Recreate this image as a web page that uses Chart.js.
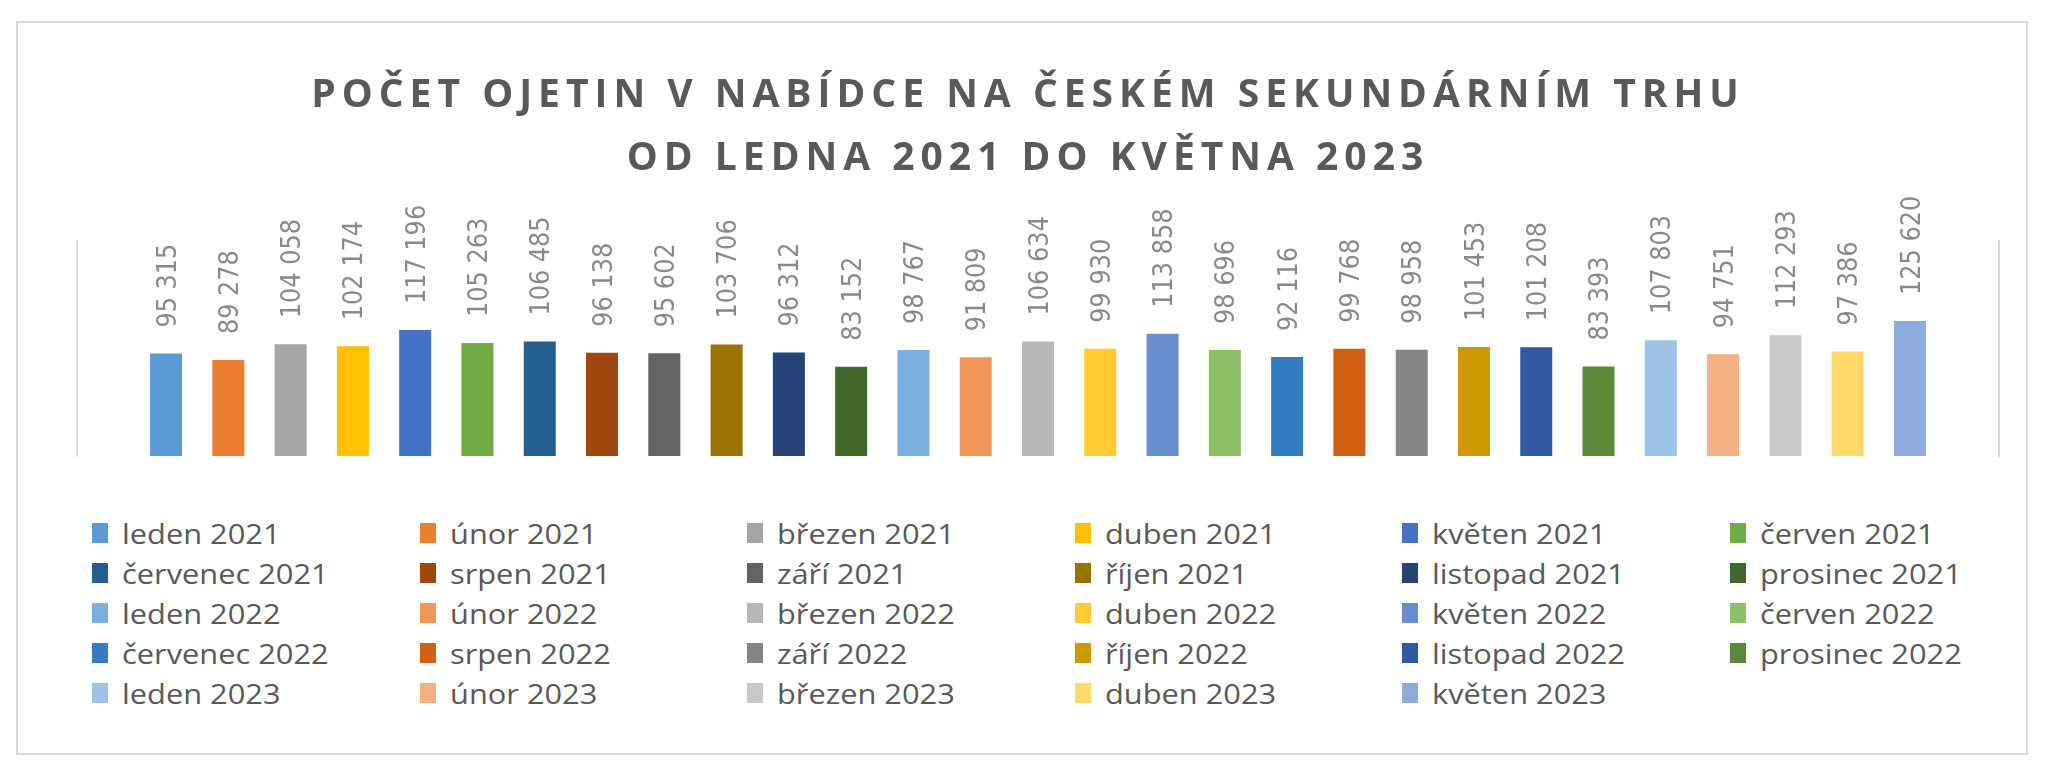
<!DOCTYPE html>
<html lang="cs">
  <head>
    <meta charset="UTF-8" />
    <title>Počet ojetin v nabídce</title>
    <script src="https://cdn.jsdelivr.net/npm/chart.js@4.4.0/dist/chart.umd.min.js"></script>
    <style>
      body { margin: 0; background: #fff; }
      #frame {
        position: absolute; left: 16px; top: 21px;
        width: 2012px; height: 734px;
        box-sizing: border-box; border: 2px solid #d9d9d9;
      }
      #box { position: relative; width: 2008px; height: 470px; }
      #legend {
        position: absolute; left: 74px; top: 490px;
        display: grid; grid-template-columns: repeat(6, 327.6px);
      }
      .item { display: flex; align-items: center; height: 40px; }
      .swatch { width: 16px; height: 20px; margin-right: 14px; flex: none; }
      .label {
        font: 28px "Open Sans"; color: #595959; white-space: nowrap;
        transform: scaleX(1.1); transform-origin: left center;
      }
    </style>
  </head>
  <body>
    <div id="frame">
      <div id="box"><canvas id="chart"></canvas></div>
      <div id="legend"></div>
    </div>
    <script>
      const categories = [
        "leden 2021", "únor 2021", "březen 2021", "duben 2021", "květen 2021", "červen 2021",
        "červenec 2021", "srpen 2021", "září 2021", "říjen 2021", "listopad 2021", "prosinec 2021",
        "leden 2022", "únor 2022", "březen 2022", "duben 2022", "květen 2022", "červen 2022",
        "červenec 2022", "srpen 2022", "září 2022", "říjen 2022", "listopad 2022", "prosinec 2022",
        "leden 2023", "únor 2023", "březen 2023", "duben 2023", "květen 2023"
      ];
      const values = [
        95315, 89278, 104058, 102174, 117196, 105263,
        106485, 96138, 95602, 103706, 96312, 83152,
        98767, 91809, 106634, 99930, 113858, 98696,
        92116, 99768, 98958, 101453, 101208, 83393,
        107803, 94751, 112293, 97386, 125620
      ];
      const colors = [
        "#5b9bd5", "#ed7d31", "#a5a5a5", "#ffc000", "#4472c4", "#70ad47",
        "#255e91", "#9e480e", "#636363", "#997300", "#264478", "#43682b",
        "#7cafdd", "#f1975a", "#b7b7b7", "#ffcd33", "#698ed0", "#8cc168",
        "#327dc2", "#d26012", "#848484", "#cc9a00", "#335aa1", "#5a8a39",
        "#9dc3e6", "#f4b183", "#c9c9c9", "#ffd966", "#8faadc"
      ];
      const titleLines = [
        "POČET OJETIN V NABÍDCE NA ČESKÉM SEKUNDÁRNÍM TRHU",
        "OD LEDNA 2021 DO KVĚTNA 2023"
      ];

      // 95315 -> "95 315"
      function formatValue(v) {
        return String(v).replace(/\B(?=(\d{3})+(?!\d))/g, " ");
      }

      // title letter spacing (Chart.js has no option for it), and the title
      // sits centred on the frame rather than on the plot area
      const titleSpacing = {
        id: "titleSpacing",
        beforeDraw(chart) {
          const block = chart.titleBlock;
          if (!block || block._spaced) return;
          const draw = block.draw.bind(block);
          block.draw = function () {
            chart.ctx.save();
            chart.ctx.letterSpacing = "6px";
            chart.ctx.translate(-10, 0);
            draw();
            chart.ctx.restore();
          };
          block._spaced = true;
        }
      };

      // rotated value labels above the bars
      const barLabels = {
        id: "barLabels",
        afterDatasetsDraw(chart) {
          const ctx = chart.ctx;
          const meta = chart.getDatasetMeta(0);
          ctx.save();
          ctx.font = '24px "DejaVu Sans"';
          ctx.fillStyle = "#898989";
          ctx.textAlign = "left";
          ctx.textBaseline = "alphabetic";
          meta.data.forEach((bar, i) => {
            ctx.save();
            ctx.translate(bar.x, bar.y - 26);
            ctx.scale(1.1, 1);
            ctx.rotate(-Math.PI / 2);
            ctx.fillText(formatValue(values[i]), 0, 8.7);
            ctx.restore();
          });
          ctx.restore();
        }
      };

      // legend in 6 fixed columns
      const htmlLegend = {
        id: "htmlLegend",
        afterUpdate(chart) {
          const box = document.getElementById("legend");
          box.innerHTML = "";
          const ds = chart.data.datasets[0];
          chart.data.labels.forEach((label, i) => {
            const item = document.createElement("div");
            item.className = "item";
            const sw = document.createElement("span");
            sw.className = "swatch";
            sw.style.background = ds.backgroundColor[i];
            const txt = document.createElement("span");
            txt.className = "label";
            txt.textContent = label;
            item.appendChild(sw);
            item.appendChild(txt);
            box.appendChild(item);
          });
        }
      };

      const axisLine = { display: true, color: "#d9d9d9", width: 2 };

      new Chart(document.getElementById("chart"), {
        type: "bar",
        data: {
          labels: categories,
          datasets: [{
            data: values.map((v, i) => ({ x: i, y: v })),
            backgroundColor: colors,
            categoryPercentage: 1,
            barPercentage: 0.514
          }]
        },
        options: {
          responsive: true,
          maintainAspectRatio: false,
          animation: false,
          layout: { padding: { left: 59, right: 27, top: 0, bottom: 37 } },
          plugins: {
            legend: { display: false },
            tooltip: { enabled: false },
            title: {
              display: true,
              text: titleLines,
              color: "#595959",
              font: { family: "Open Sans", size: 39, weight: "bold", lineHeight: 1.63 },
              padding: { top: 41, bottom: 50 }
            }
          },
          scales: {
            x: {
              type: "linear", display: false, offset: false,
              min: -1.43, max: 29.43
            },
            y: {
              min: 0, max: 200000,
              ticks: { display: false },
              grid: { display: false, drawTicks: false },
              border: axisLine
            },
            y2: {
              position: "right",
              min: 0, max: 200000,
              ticks: { display: false },
              grid: { display: false, drawTicks: false },
              border: axisLine
            }
          }
        },
        plugins: [titleSpacing, barLabels, htmlLegend]
      });
    </script>
  </body>
</html>
